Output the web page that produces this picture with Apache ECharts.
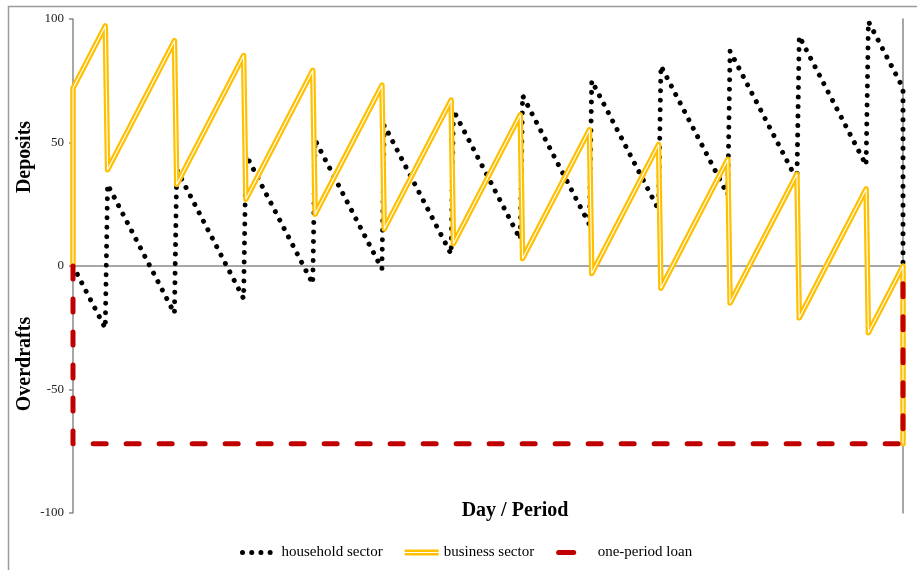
<!DOCTYPE html>
<html>
<head>
<meta charset="utf-8">
<script src="https://cdn.jsdelivr.net/npm/echarts@6/dist/echarts.min.js"></script>
<style>
html,body{margin:0;padding:0;background:#fff;}
#chart{width:917px;height:570px;}
</style>
</head>
<body>
<div id="chart"></div>
<script>
// Day index (30 days per period, 12 periods) and values
var householdDays   = [0, 14, 15, 44, 45, 74, 75, 104, 105, 134, 135, 164, 165, 194, 195, 224, 225, 254, 255, 284, 285, 314, 315, 344, 345, 360, 360];
var householdValues = [0, -25.2, 33, -19.2, 39, -13.2, 45, -7.2, 51, -1.2, 57, 4.8, 63, 10.8, 69, 16.8, 75, 22.8, 81, 28.8, 87, 34.8, 93, 40.8, 99, 72, 0];

var businessDays    = [0, 0, 14, 15, 44, 45, 74, 75, 104, 105, 134, 135, 164, 165, 194, 195, 224, 225, 254, 255, 284, 285, 314, 315, 344, 345, 360, 360];
var businessValues  = [0, 72, 97.2, 39, 91.2, 33, 85.2, 27, 79.2, 21, 73.2, 15, 67.2, 9, 61.2, 3, 55.2, -3, 49.2, -9, 43.2, -15, 37.2, -21, 31.2, -27, 0, -72];

var loanDays        = [0, 0, 360, 360];
var loanValues      = [0, -72, -72, 0];

var yTicks = [-100, -50, 0, 50, 100];
var seriesNames = ['household sector', 'business sector', 'one-period loan'];

function pairs(xs, ys) {
  var out = [];
  for (var i = 0; i < xs.length; i++) out.push([xs[i], ys[i]]);
  return out;
}

var serif = '"Liberation Serif", "Times New Roman", serif';
var axisGray = '#8a8a8a';

var chart = echarts.init(document.getElementById('chart'), null, {renderer: 'canvas'});
chart.setOption({
  animation: false,
  backgroundColor: '#fff',
  grid: {left: 73, right: 14, top: 19, bottom: 57, containLabel: false},
  xAxis: {
    type: 'value', min: 0, max: 360,
    axisLine: {show: true, onZero: true, lineStyle: {color: axisGray, width: 1.5}},
    axisTick: {show: false}, axisLabel: {show: false}, splitLine: {show: false}
  },
  yAxis: [{
    type: 'value', min: yTicks[0], max: yTicks[yTicks.length - 1], interval: 50,
    axisLine: {show: true, onZero: false, lineStyle: {color: axisGray, width: 1.5}},
    axisTick: {show: true, inside: false, length: 4, lineStyle: {color: axisGray, width: 1.5}},
    axisLabel: {show: true, margin: 9, color: '#222', fontFamily: serif, fontSize: 13},
    splitLine: {show: false}
  }, {
    type: 'value', min: yTicks[0], max: yTicks[yTicks.length - 1], position: 'right',
    axisLine: {show: true, onZero: false, lineStyle: {color: axisGray, width: 1.5}},
    axisTick: {show: false}, axisLabel: {show: false}, splitLine: {show: false}
  }],
  legend: {
    data: [
      {name: seriesNames[0], lineStyle: {width: 5, type: [0.01, 9.2], cap: 'round'}},
      {name: seriesNames[1], icon: 'path://M0,0H34V6H0Z M0,2.4V3.6H34V2.4Z', itemStyle: {opacity: 1, color: '#FFC000'}},
      {name: seriesNames[2], lineStyle: {width: 5, type: [15, 40], cap: 'round'}}
    ],
    left: 235, top: 540,
    itemWidth: 34, itemHeight: 10, itemGap: 22,
    itemStyle: {opacity: 0},
    textStyle: {fontFamily: serif, fontSize: 15, color: '#000'}
  },
  graphic: [
    {type: 'rect', silent: true, shape: {x: 8.5, y: 6.5, width: 1000, height: 1000},
     style: {fill: 'none', stroke: '#9a9a9a', lineWidth: 1.5}},
    {type: 'text', silent: true, x: 25, y: 157, rotation: Math.PI / 2,
     style: {text: 'Deposits', font: 'bold 20px ' + serif, fill: '#000', textAlign: 'center', textVerticalAlign: 'middle'}},
    {type: 'text', silent: true, x: 25, y: 364, rotation: Math.PI / 2,
     style: {text: 'Overdrafts', font: 'bold 20px ' + serif, fill: '#000', textAlign: 'center', textVerticalAlign: 'middle'}},
    {type: 'text', silent: true, x: 515, y: 511,
     style: {text: 'Day / Period', font: 'bold 20px ' + serif, fill: '#000', textAlign: 'center', textVerticalAlign: 'middle'}}
  ],
  series: [
    {
      name: seriesNames[0], type: 'line', data: pairs(householdDays, householdValues),
      showSymbol: false, symbol: 'none', clip: false, z: 2,
      lineStyle: {color: '#000', width: 5, type: [0.01, 9.5], cap: 'round', join: 'round'},
      itemStyle: {color: '#000'}
    },
    {
      name: seriesNames[1], type: 'line', data: pairs(businessDays, businessValues),
      showSymbol: false, symbol: 'none', clip: false, z: 3,
      lineStyle: {color: '#FFC000', width: 5.5, cap: 'round', join: 'round'},
      itemStyle: {color: '#FFC000'}
    },
    {
      name: 'business core', type: 'line', data: pairs(businessDays, businessValues),
      showSymbol: false, symbol: 'none', clip: false, silent: true, z: 4,
      lineStyle: {color: '#ffffff', width: 1.1, cap: 'round', join: 'round'},
      itemStyle: {color: '#ffffff'}
    },
    {
      name: seriesNames[2], type: 'line', data: pairs(loanDays, loanValues),
      showSymbol: false, symbol: 'none', clip: false, z: 5,
      lineStyle: {color: '#C00000', width: 5, type: [13, 20], cap: 'round', join: 'round'},
      itemStyle: {color: '#C00000'}
    }
  ]
});
</script>
</body>
</html>
